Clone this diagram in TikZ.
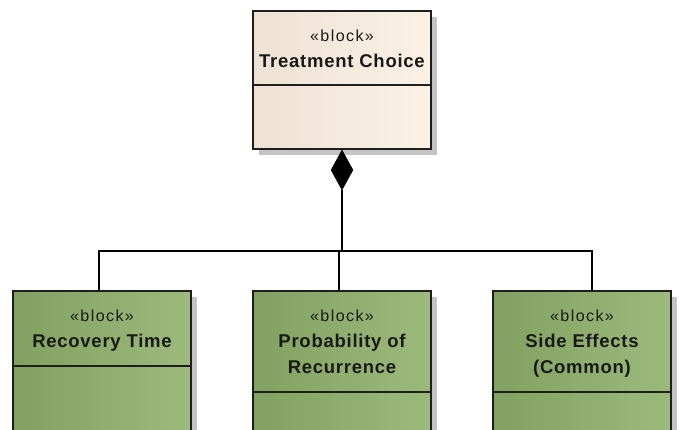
\documentclass[tikz,border=0pt]{standalone}
\usepackage{fontspec}
\setmainfont{Liberation Sans}
\newfontfamily\stereofont[LetterSpace=9]{Liberation Sans}
\newfontfamily\blockfont[LetterSpace=4]{Liberation Sans}
\usetikzlibrary{shapes.geometric,shadows}

\definecolor{edge}{HTML}{1E1E1E}
\definecolor{creamL}{HTML}{EDE2D4}
\definecolor{creamR}{HTML}{FBF1E5}
\definecolor{greenL}{HTML}{82A05F}
\definecolor{greenR}{HTML}{9CBA7C}
\definecolor{shade}{HTML}{C4C4C4}

\tikzset{
  blockbox/.style={rectangle, draw=edge, line width=1.5pt, inner sep=0pt,
    minimum width=178pt,
    general shadow={fill=shade, draw=none, shadow xshift=6pt, shadow yshift=-6pt}},
  parentbox/.style={blockbox, left color=creamL, right color=creamR},
  partbox/.style={blockbox, left color=greenL, right color=greenR},
  divider/.style={draw=edge, line width=1.5pt},
  stereo/.style={anchor=base, inner sep=0pt, font=\stereofont\fontsize{16}{19}\selectfont, text=black!90},
  bname/.style={anchor=base, inner sep=0pt, font=\blockfont\bfseries\fontsize{18.5}{22}\selectfont, text=black!90},
  conn/.style={draw=black, line width=1.3pt},
  composite/.style={diamond, fill=black, draw=black, line width=0.5pt, inner sep=0pt,
    minimum width=22pt, minimum height=40pt, aspect=0.55}
}

\begin{document}
\begin{tikzpicture}[x=1pt,y=-1pt]
\useasboundingbox (0,0) rectangle (685,430);
\clip (0,0) rectangle (685,430);
\fill[white] (0,0) rectangle (685,430);

% whole block: Treatment Choice
\node[parentbox, minimum height=138pt] (choice) at (342,80) {};
\draw[divider] (choice.west |- 0,85) -- (choice.east |- 0,85);
\node[stereo] (choiceSt) at (342,41.5) {«block»};
\node[bname] (choiceNm) at (342,67.5) {Treatment Choice};

% part blocks
\node[partbox, minimum height=149pt] (recovery) at (102,365.5) {};
\draw[divider] (recovery.west |- 0,366) -- (recovery.east |- 0,366);
\node[stereo] (recoverySt) at (102,321.5) {«block»};
\node[bname] (recoveryNm) at (102,347.5) {Recovery Time};

\node[partbox, minimum height=149pt] (recur) at (342,365.5) {};
\draw[divider] (recur.west |- 0,392) -- (recur.east |- 0,392);
\node[stereo] (recurSt) at (342,321.5) {«block»};
\node[bname] (recurNmA) at (342,347.5) {Probability of};
\node[bname] (recurNmB) at (342,373.5) {Recurrence};

\node[partbox, minimum height=149pt] (effects) at (582,365.5) {};
\draw[divider] (effects.west |- 0,392) -- (effects.east |- 0,392);
\node[stereo] (effectsSt) at (582,321.5) {«block»};
\node[bname] (effectsNmA) at (582,347.5) {Side Effects};
\node[bname] (effectsNmB) at (582,373.5) {(Common)};

% composition tree
\node[composite, anchor=north] (whole) at (choice.south) {};
\coordinate (bus) at (342,251);
\draw[conn] ([xshift=-3pt]recovery.north) |- (bus) -- (whole.south);
\draw[conn] ([xshift=-3pt]recur.north) |- (bus) -- (whole.south);
\draw[conn] ([xshift=10pt]effects.north) |- (bus) -- (whole.south);
\end{tikzpicture}
\end{document}
